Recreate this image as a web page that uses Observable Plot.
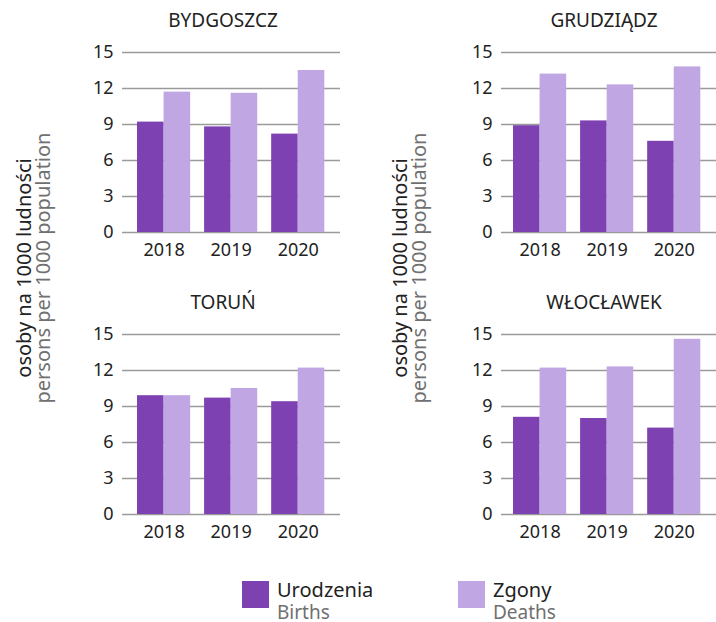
<!DOCTYPE html>
<html>
<head>
<meta charset="utf-8">
<script src="https://cdn.jsdelivr.net/npm/d3@7"></script>
<script src="https://cdn.jsdelivr.net/npm/@observablehq/plot@0.6"></script>
<style>
  html, body { margin: 0; padding: 0; background: #fff; }
  #root { position: relative; width: 716px; height: 622px; font-family: 'Noto Sans', sans-serif; overflow: hidden; }
  .panel { position: absolute; }
  #overlay { position: absolute; left: 0; top: 0; pointer-events: none; }
</style>
</head>
<body>
<div id="root"></div>
<script>
// ---- data ----
const cities = ["BYDGOSZCZ", "GRUDZIĄDZ", "TORUŃ", "WŁOCŁAWEK"];
const years = [2018, 2019, 2020];
const yTicks = [0, 3, 6, 9, 12, 15];

const birthsBydgoszcz = [9.2, 8.8, 8.2];
const deathsBydgoszcz = [11.7, 11.6, 13.5];
const birthsGrudziadz = [8.9, 9.3, 7.6];
const deathsGrudziadz = [13.2, 12.3, 13.8];
const birthsTorun = [9.9, 9.7, 9.4];
const deathsTorun = [9.9, 10.5, 12.2];
const birthsWloclawek = [8.1, 8.0, 7.2];
const deathsWloclawek = [12.2, 12.3, 14.6];

const seriesLabels = ["Urodzenia", "Zgony"];
const seriesLabelsEn = ["Births", "Deaths"];
const yTitle = "osoby na 1000 ludności";
const yTitleEn = "persons per 1000 population";

// ---- style ----
const birthColor = "#7e41b1";
const deathColor = "#c1a6e4";
const gridColor = "#9a9a9a";
const textColor = "#222";
const subColor = "#707070";
const halfGroup = 0.396;

const root = document.getElementById("root");

const panels = [
  {city: cities[0], births: birthsBydgoszcz, deaths: deathsBydgoszcz, left: 0,   top: 0,   right: false},
  {city: cities[1], births: birthsGrudziadz, deaths: deathsGrudziadz, left: 376, top: 0,   right: true},
  {city: cities[2], births: birthsTorun,     deaths: deathsTorun,     left: 0,   top: 282, right: false},
  {city: cities[3], births: birthsWloclawek, deaths: deathsWloclawek, left: 376, top: 282, right: true}
];

for (const p of panels) {
  const rows = years.map((year, i) => ({year, births: p.births[i], deaths: p.deaths[i]}));
  const chart = Plot.plot({
    width: p.right ? 340 : 350,
    height: 270,
    marginLeft: p.right ? 125 : 122,
    marginRight: p.right ? 0 : 10,
    marginTop: 52,
    marginBottom: 38,
    style: {fontFamily: "'Noto Sans', sans-serif", fontSize: "18px", color: textColor, background: "transparent", overflow: "visible"},
    x: {type: "linear", domain: [2017.38, 2020.63], range: [122, 340]},
    y: {domain: [0, 15]},
    marks: [
      Plot.gridY(yTicks, {stroke: gridColor, strokeOpacity: 1, strokeWidth: 1.3}),
      Plot.rectY(rows, {x1: d => d.year - halfGroup, x2: "year", y: "births", fill: birthColor}),
      Plot.rectY(rows, {x1: "year", x2: d => d.year + halfGroup, y: "deaths", fill: deathColor}),
      Plot.axisY(yTicks, {tickSize: 0, tickPadding: 9, fontSize: 18, label: null}),
      Plot.axisX(years, {tickSize: 0, tickPadding: 11, fontSize: 18, tickFormat: d => String(d), label: null})
    ]
  });
  const div = document.createElement("div");
  div.className = "panel";
  div.style.left = p.left + "px";
  div.style.top = p.top + "px";
  div.appendChild(chart);
  root.appendChild(div);
}

// ---- overlay texts: titles, y titles, legend ----
const svg = d3.select(root).append("svg")
  .attr("id", "overlay")
  .attr("width", 716).attr("height", 622)
  .style("font-family", "'Noto Sans', sans-serif");

const titlePos = [[223, 27], [604, 27], [223, 309], [604, 309]];
cities.forEach((c, i) => {
  svg.append("text").attr("x", titlePos[i][0]).attr("y", titlePos[i][1])
    .attr("text-anchor", "middle").attr("font-size", 19).attr("fill", textColor).text(c);
});

for (const off of [0, 376]) {
  svg.append("text").attr("transform", `translate(${31 + off},268) rotate(-90)`)
    .attr("text-anchor", "middle").attr("font-size", 20).attr("fill", textColor).text(yTitle);
  svg.append("text").attr("transform", `translate(${50 + off},268) rotate(-90)`)
    .attr("text-anchor", "middle").attr("font-size", 20).attr("fill", subColor).text(yTitleEn);
}

const legendX = [242, 458];
const legendColors = [birthColor, deathColor];
legendX.forEach((x, i) => {
  svg.append("rect").attr("x", x).attr("y", 581).attr("width", 27).attr("height", 27).attr("fill", legendColors[i]);
  svg.append("text").attr("x", x + 35).attr("y", 597).attr("font-size", 20).attr("fill", textColor).text(seriesLabels[i]);
  svg.append("text").attr("x", x + 35).attr("y", 619).attr("font-size", 19).attr("fill", subColor).text(seriesLabelsEn[i]);
});
</script>
</body>
</html>
